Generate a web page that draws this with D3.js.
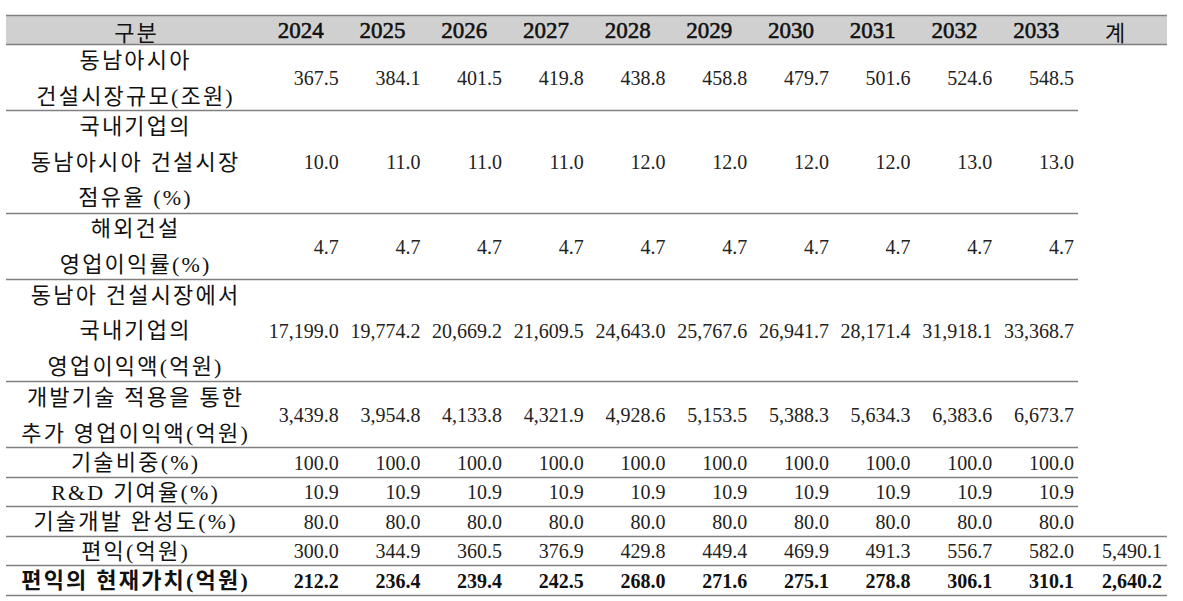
<!DOCTYPE html>
<html><head><meta charset="utf-8">
<script src="https://cdn.jsdelivr.net/npm/d3@7"></script>
<style>
html,body{margin:0;padding:0;background:#fff;}
svg{display:block;}
</style></head>
<body>
<script>
// ---- data ----
const years = ["2024","2025","2026","2027","2028","2029","2030","2031","2032","2033"];
const headerLabel = "구분";
const totalLabel = "계";
const rowLabels = [
  ["동남아시아","건설시장규모(조원)"],
  ["국내기업의","동남아시아 건설시장","점유율 (%)"],
  ["해외건설","영업이익률(%)"],
  ["동남아 건설시장에서","국내기업의","영업이익액(억원)"],
  ["개발기술 적용을 통한","추가 영업이익액(억원)"],
  ["기술비중(%)"],
  ["R&D 기여율(%)"],
  ["기술개발 완성도(%)"],
  ["편익(억원)"],
  ["편익의 현재가치(억원)"]
];
const marketSize = [367.5,384.1,401.5,419.8,438.8,458.8,479.7,501.6,524.6,548.5];
const marketShare = [10.0,11.0,11.0,11.0,12.0,12.0,12.0,12.0,13.0,13.0];
const opMargin = [4.7,4.7,4.7,4.7,4.7,4.7,4.7,4.7,4.7,4.7];
const opProfit = [17199.0,19774.2,20669.2,21609.5,24643.0,25767.6,26941.7,28171.4,31918.1,33368.7];
const addProfit = [3439.8,3954.8,4133.8,4321.9,4928.6,5153.5,5388.3,5634.3,6383.6,6673.7];
const techShare = [100.0,100.0,100.0,100.0,100.0,100.0,100.0,100.0,100.0,100.0];
const rdRate = [10.9,10.9,10.9,10.9,10.9,10.9,10.9,10.9,10.9,10.9];
const completion = [80.0,80.0,80.0,80.0,80.0,80.0,80.0,80.0,80.0,80.0];
const benefit = [300.0,344.9,360.5,376.9,429.8,449.4,469.9,491.3,556.7,582.0];
const presentValue = [212.2,236.4,239.4,242.5,268.0,271.6,275.1,278.8,306.1,310.1];
const totals = [null,null,null,null,null,null,null,null,5490.1,2640.2];

const series = [marketSize,marketShare,opMargin,opProfit,addProfit,techShare,rdRate,completion,benefit,presentValue];

// ---- layout ----
const W = 1183, H = 601;
const xLeft = 6, labelRight = 261, yearsRight = 1078, xRight = 1167;
const yTop = 15, headerH = 29;
const rowH = n => n === 1 ? 29.5 : (n === 2 ? 66 : 102.5);
const fmt = d3.format(",.1f");
const numFont = "'Liberation Serif', 'Noto Sans CJK KR', serif";
const mixFont = "'Liberation Serif', 'Noto Sans CJK KR', serif";
const lineColor = "#808080";
const ls = 2.2;

const svg = d3.select("body").append("svg").attr("width", W).attr("height", H);

const x = d3.scaleBand().domain(years).range([labelRight, yearsRight]).paddingInner(0);

// row boundaries
const heights = rowLabels.map(l => rowH(l.length));
const bounds = [yTop + headerH, ...Array.from(d3.cumsum(heights)).map(v => v + yTop + headerH)];
const y = d3.scaleOrdinal().domain(d3.range(rowLabels.length)).range(bounds.slice(0, -1));

// header background
svg.append("rect").attr("x", xLeft).attr("y", yTop).attr("width", xRight - xLeft).attr("height", headerH)
  .attr("fill", "#d0d0d0");

// header texts
const hy = yTop + headerH / 2 + 1;
svg.append("text").attr("x", (xLeft + labelRight) / 2 + 2 + ls / 2).attr("y", hy)
  .attr("text-anchor", "middle").attr("dominant-baseline", "central")
  .attr("font-family", "'Noto Sans CJK KR', sans-serif").attr("font-size", 22).attr("fill", "#111")
  .attr("letter-spacing", ls)
  .text(headerLabel);
svg.selectAll("text.yr").data(years).enter().append("text").attr("class", "yr")
  .attr("x", d => x(d) + x.bandwidth() / 2 - 1).attr("y", hy)
  .attr("text-anchor", "middle").attr("dominant-baseline", "central")
  .attr("font-family", numFont).attr("font-size", 23).attr("fill", "#111")
  .attr("stroke", "#111").attr("stroke-width", 0.55)
  .text(d => d);
svg.append("text").attr("x", 1115).attr("y", hy)
  .attr("text-anchor", "middle").attr("dominant-baseline", "central")
  .attr("font-family", "'Noto Sans CJK KR', sans-serif").attr("font-size", 22).attr("fill", "#111")
  .text(totalLabel);

// lines
const hline = (y0, x1) => svg.append("line").attr("x1", xLeft).attr("x2", x1)
  .attr("y1", Math.round(y0) + 0.5).attr("y2", Math.round(y0) + 0.5)
  .attr("stroke", lineColor).attr("stroke-width", 1.3);
hline(yTop, xRight);
hline(yTop + headerH, xRight);
rowLabels.forEach((l, i) => {
  const yb = bounds[i + 1];
  hline(yb, i >= 7 ? xRight : yearsRight);
});

// rows
rowLabels.forEach((lines, i) => {
  const y0 = y(i), h = heights[i], cy = y0 + h / 2;
  const bold = i === rowLabels.length - 1;
  const lh = lines.length === 3 ? 35.5 : 36;
  const g = svg.append("g");
  lines.forEach((t, k) => {
    g.append("text").attr("x", (xLeft + labelRight) / 2 + 1 + ls / 2)
      .attr("y", cy + (k - (lines.length - 1) / 2) * lh + 1)
      .attr("text-anchor", "middle").attr("dominant-baseline", "central")
      .attr("font-family", mixFont).attr("font-size", 22)
      .attr("letter-spacing", ls)
      .attr("font-weight", bold ? "bold" : "normal").attr("fill", "#111")
      .style("white-space", "pre")
      .text(t);
  });
  g.selectAll("text.v").data(series[i]).enter().append("text").attr("class", "v")
    .attr("x", (d, j) => x(years[j]) + x.bandwidth() - 4)
    .attr("y", cy + 1)
    .attr("text-anchor", "end").attr("dominant-baseline", "central")
    .attr("font-family", numFont).attr("font-size", 20)
    .attr("font-weight", bold ? "bold" : "normal").attr("fill", bold ? "#111" : "#222")
    .text(d => fmt(d));
  if (totals[i] != null) {
    g.append("text").attr("x", xRight - 5).attr("y", cy + 1)
      .attr("text-anchor", "end").attr("dominant-baseline", "central")
      .attr("font-family", numFont).attr("font-size", 20)
      .attr("font-weight", bold ? "bold" : "normal").attr("fill", bold ? "#111" : "#222")
      .text(fmt(totals[i]));
  }
});
</script>
</body></html>
